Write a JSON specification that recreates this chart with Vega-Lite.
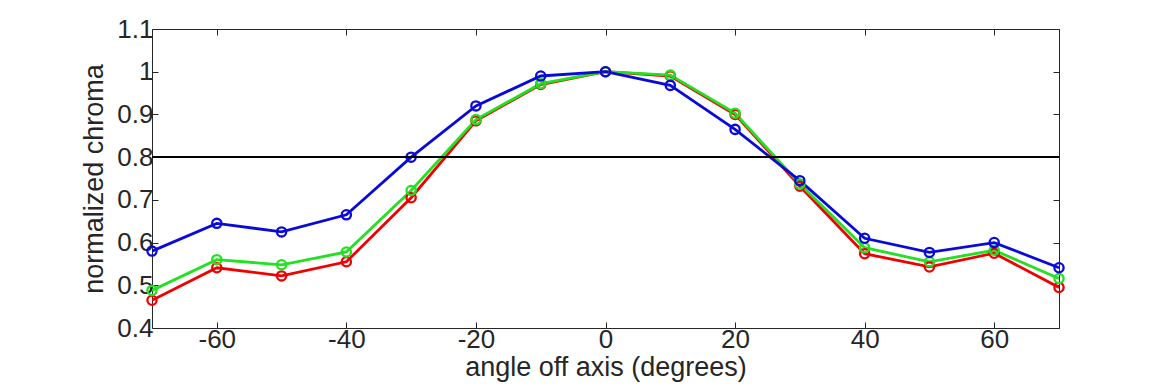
{
  "$schema": "https://vega.github.io/schema/vega-lite/v6.json",
  "autosize": "none",
  "width": 907,
  "height": 299,
  "padding": {"left": 152, "top": 29, "right": 111, "bottom": 62},
  "background": "white",
  "config": {
    "view": {"stroke": "#262626", "strokeWidth": 1},
    "font": "Liberation Sans",
    "axis": {
      "labelFont": "Liberation Sans",
      "titleFont": "Liberation Sans",
      "labelFontSize": 26,
      "titleFontSize": 27,
      "labelColor": "#262626",
      "titleColor": "#262626",
      "titleFontWeight": "normal",
      "tickColor": "#262626",
      "tickSize": -6,
      "domain": false,
      "grid": false
    }
  },
  "data": {
    "values": [
      {"angle": -70, "value": 0.465, "channel": "red"},
      {"angle": -60, "value": 0.541, "channel": "red"},
      {"angle": -50, "value": 0.522, "channel": "red"},
      {"angle": -40, "value": 0.555, "channel": "red"},
      {"angle": -30, "value": 0.705, "channel": "red"},
      {"angle": -20, "value": 0.885, "channel": "red"},
      {"angle": -10, "value": 0.970, "channel": "red"},
      {"angle": 0, "value": 1.0, "channel": "red"},
      {"angle": 10, "value": 0.990, "channel": "red"},
      {"angle": 20, "value": 0.900, "channel": "red"},
      {"angle": 30, "value": 0.732, "channel": "red"},
      {"angle": 40, "value": 0.574, "channel": "red"},
      {"angle": 50, "value": 0.543, "channel": "red"},
      {"angle": 60, "value": 0.575, "channel": "red"},
      {"angle": 70, "value": 0.495, "channel": "red"},
      {"angle": -70, "value": 0.488, "channel": "green"},
      {"angle": -60, "value": 0.560, "channel": "green"},
      {"angle": -50, "value": 0.548, "channel": "green"},
      {"angle": -40, "value": 0.578, "channel": "green"},
      {"angle": -30, "value": 0.722, "channel": "green"},
      {"angle": -20, "value": 0.888, "channel": "green"},
      {"angle": -10, "value": 0.972, "channel": "green"},
      {"angle": 0, "value": 1.0, "channel": "green"},
      {"angle": 10, "value": 0.992, "channel": "green"},
      {"angle": 20, "value": 0.903, "channel": "green"},
      {"angle": 30, "value": 0.737, "channel": "green"},
      {"angle": 40, "value": 0.588, "channel": "green"},
      {"angle": 50, "value": 0.555, "channel": "green"},
      {"angle": 60, "value": 0.582, "channel": "green"},
      {"angle": 70, "value": 0.516, "channel": "green"},
      {"angle": -70, "value": 0.580, "channel": "blue"},
      {"angle": -60, "value": 0.645, "channel": "blue"},
      {"angle": -50, "value": 0.625, "channel": "blue"},
      {"angle": -40, "value": 0.665, "channel": "blue"},
      {"angle": -30, "value": 0.800, "channel": "blue"},
      {"angle": -20, "value": 0.920, "channel": "blue"},
      {"angle": -10, "value": 0.990, "channel": "blue"},
      {"angle": 0, "value": 1.0, "channel": "blue"},
      {"angle": 10, "value": 0.968, "channel": "blue"},
      {"angle": 20, "value": 0.865, "channel": "blue"},
      {"angle": 30, "value": 0.745, "channel": "blue"},
      {"angle": 40, "value": 0.610, "channel": "blue"},
      {"angle": 50, "value": 0.577, "channel": "blue"},
      {"angle": 60, "value": 0.600, "channel": "blue"},
      {"angle": 70, "value": 0.541, "channel": "blue"}
    ]
  },
  "resolve": {"axis": {"x": "independent", "y": "independent"}},
  "layer": [
    {
      "mark": {"type": "line", "strokeWidth": 2.8, "clip": true},
      "encoding": {
        "x": {"field": "angle", "type": "quantitative",
              "scale": {"domain": [-70, 70], "nice": false, "zero": false},
              "axis": {"values": [-60, -40, -20, 0, 20, 40, 60], "labelExpr": "datum.value < 0 ? '-' + abs(datum.value) : '' + datum.value", "title": "angle off axis (degrees)", "labelPadding": 4, "titlePadding": 2, "orient": "bottom"}},
        "y": {"field": "value", "type": "quantitative",
              "scale": {"domain": [0.4, 1.1], "nice": false, "zero": false},
              "axis": {"values": [0.4, 0.5, 0.6, 0.7, 0.8, 0.9, 1.0, 1.1], "format": "~g", "title": "normalized chroma", "labelPadding": 5, "titlePadding": 8, "orient": "left"}},
        "color": {"field": "channel", "type": "nominal",
                  "scale": {"domain": ["red", "green", "blue"], "range": ["#f00000", "#22e022", "#0a0ad8"]},
                  "legend": null},
        "order": {"field": "channel"}
      }
    },
    {
      "mark": {"type": "point", "shape": "circle", "filled": false, "size": 85, "strokeWidth": 2.3, "opacity": 1},
      "encoding": {
        "x": {"field": "angle", "type": "quantitative",
              "axis": {"values": [-60, -40, -20, 0, 20, 40, 60], "orient": "top", "labels": false, "title": null}},
        "y": {"field": "value", "type": "quantitative",
              "axis": {"values": [0.4, 0.5, 0.6, 0.7, 0.8, 0.9, 1.0, 1.1], "orient": "right", "labels": false, "title": null}},
        "color": {"field": "channel", "type": "nominal", "legend": null}
      }
    },
    {
      "mark": {"type": "rule", "color": "black", "strokeWidth": 1.2},
      "encoding": {"y": {"datum": 0.8, "type": "quantitative", "axis": null}}
    }
  ]
}
